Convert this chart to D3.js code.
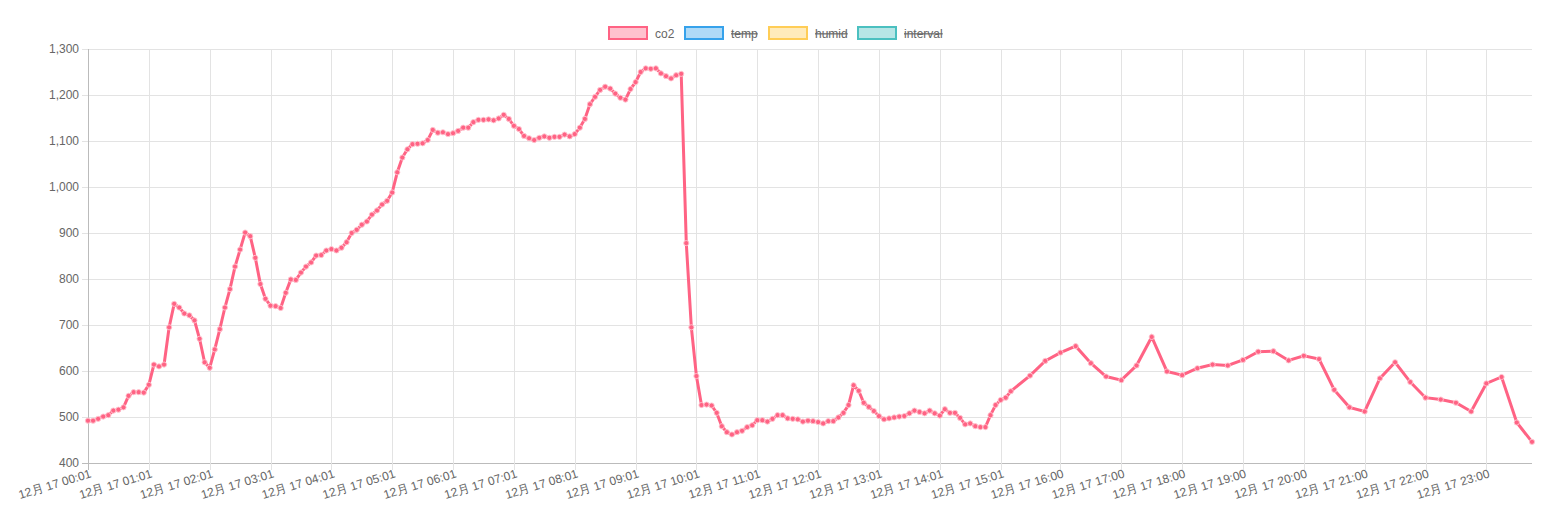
<!DOCTYPE html>
<html><head><meta charset="utf-8">
<script src="https://cdn.jsdelivr.net/npm/d3@7"></script>
<style>body{margin:0;background:#fff;font-family:"Liberation Sans",Arial,sans-serif}</style>
</head><body><svg id="c" width="1551" height="532"></svg>
<script>
// dense readings every 5 minutes from 00:01
const denseStart = 1, denseStep = 5;
const denseValues = [492,492,496,501,504,514,516,521,546,554,554,553,570,614,610,614,695,746,738,725,721,710,670,619,607,647,691,738,778,827,864,901,893,846,789,757,742,741,737,770,799,798,
814,827,836,851,852,862,865,862,868,880,900,907,918,925,940,949,962,970,988,1032,1064,1082,1093,1094,1095,1102,1124,1118,1119,1115,1117,1122,1129,1129,1141,1146,1146,1147,1145,1149,1157,1148,1133,1126,1111,1106,
1102,1107,1110,1107,1109,1109,1114,1110,1115,1129,1148,1180,1196,1211,1218,1214,1203,1194,1190,1213,1228,1250,1258,1257,1258,1247,1241,1236,1243,1246,
878,695,
589,526,527,525,509,480,467,462,467,470,478,482,493,493,490,496,504,504,497,496,495,490,492,491,489,486,491,491,499,509,526,569,557,531,522,513,502,495,497,499,501,502,508,514,511,508,514,508,503,517,509,509,498,484,486,480,478,478,504,526,537,542,556];
// sparse readings every 15 minutes from 15:30
const sparseStart = 930, sparseStep = 15;
const sparseValues = [590,622,640,654,617,588,580,612,674,599,591,606,614,612,624,642,643,623,633,626,559,521,512,584,619,576,542,538,531,512,573,587,488,446];
const tickMinutes = [1,61,121,181,241,301,361,421,481,541,601,661,721,781,841,901,960,1020,1080,1140,1200,1260,1320,1380];
const tickLabels = ["12月 17 00:01","12月 17 01:01","12月 17 02:01","12月 17 03:01","12月 17 04:01","12月 17 05:01","12月 17 06:01","12月 17 07:01","12月 17 08:01","12月 17 09:01","12月 17 10:01","12月 17 11:01","12月 17 12:01","12月 17 13:01","12月 17 14:01","12月 17 15:01","12月 17 16:00","12月 17 17:00","12月 17 18:00","12月 17 19:00","12月 17 20:00","12月 17 21:00","12月 17 22:00","12月 17 23:00"];
const yTicks = [400,500,600,700,800,900,1000,1100,1200,1300];
const legendNames = ["co2","temp","humid","interval"];
const legendColors = ["255,99,132","54,162,235","255,205,86","75,192,192"];
const legendHidden = [false,true,true,true];

const data = denseValues.map((v,i)=>({t:denseStart+i*denseStep,v}))
  .concat(sparseValues.map((v,i)=>({t:sparseStart+i*sparseStep,v})));

const svg = d3.select("#c");
const L=88,R=1532,T=49,B=463;
const x = d3.scaleLinear().domain([1,1425]).range([L,R]);
const y = d3.scaleLinear().domain([400,1300]).range([B,T]);

const g = svg.append("g");
// grid
g.selectAll(".gy").data(yTicks).join("line").attr("x1",L-6).attr("x2",R).attr("y1",d=>y(d)+0.5).attr("y2",d=>y(d)+0.5)
  .attr("stroke",(d,i)=>i==0?"#bbb":"#e3e3e3");
g.selectAll(".gx").data(tickMinutes).join("line").attr("x1",d=>Math.round(x(d))+0.5).attr("x2",d=>Math.round(x(d))+0.5).attr("y1",T).attr("y2",B+7)
  .attr("stroke",(d,i)=>i==0?"#bbb":"#e3e3e3");
g.selectAll(".yl").data(yTicks).join("text").attr("x",L-9).attr("y",d=>y(d)+4).attr("text-anchor","end")
  .attr("font-size",12).attr("fill","#666").text(d=>d3.format(",")(d));
g.selectAll(".xl").data(tickMinutes).join("text")
  .attr("transform",(d)=>`translate(${x(d)+4},${B+14}) rotate(-17)`)
  .attr("text-anchor","end").attr("font-size",12).attr("fill","#666").text((d,i)=>tickLabels[i]);

const col="rgb(255,99,132)";
g.append("path").datum(data).attr("fill","none").attr("stroke",col).attr("stroke-width",3)
  .attr("d",d3.line().x(d=>x(d.t)).y(d=>y(d.v)));
g.selectAll(".pt").data(data).join("circle").attr("cx",d=>x(d.t)).attr("cy",d=>y(d.v)).attr("r",2.6)
  .attr("fill",col).attr("stroke","rgba(255,200,210,0.9)").attr("stroke-width",1);

// legend
const lx=[609,685,769,858];
legendNames.forEach((n,i)=>{
  const lg=svg.append("g");
  lg.append("rect").attr("x",lx[i]).attr("y",27).attr("width",38).attr("height",12)
    .attr("fill",`rgba(${legendColors[i]},0.4)`).attr("stroke",`rgb(${legendColors[i]})`).attr("stroke-width",2);
  const t=lg.append("text").attr("x",lx[i]+46).attr("y",37.5).attr("font-size",12).attr("fill","#666").text(n);
  if(legendHidden[i]) t.attr("text-decoration","line-through");
});
</script></body></html>
